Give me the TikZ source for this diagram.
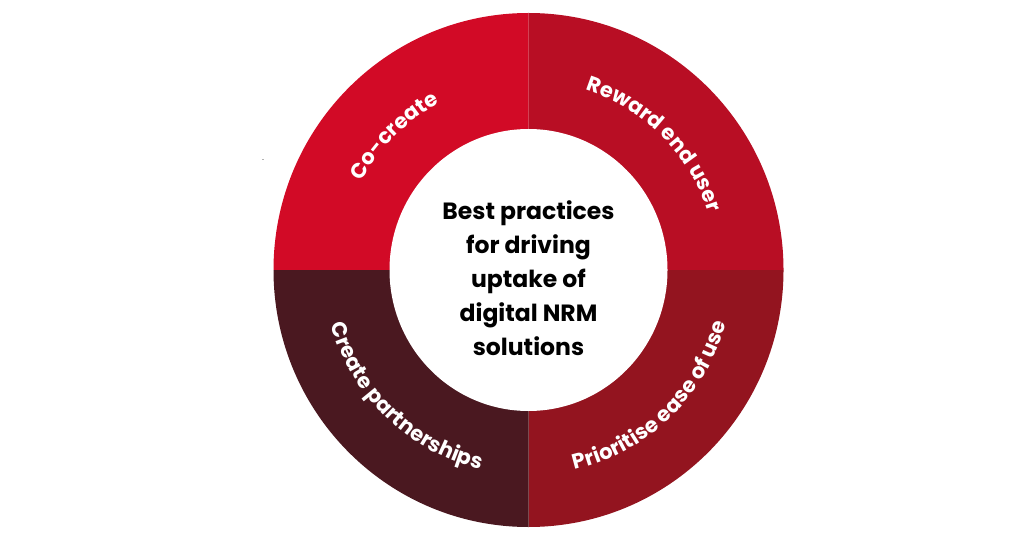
\documentclass[tikz,border=0pt]{standalone}
\usepackage{fontspec}
\setmainfont{Poppins}
\usetikzlibrary{decorations.text,calc}
\definecolor{qA}{HTML}{D20A26}
\definecolor{qB}{HTML}{B80E24}
\definecolor{qC}{HTML}{93141F}
\definecolor{qD}{HTML}{4A1820}
\tikzset{
  ringlabel/.style={decorate, decoration={text along path, text align=center, text color=white}},
}
\newcommand{\ringfont}{\bfseries\fontsize{21}{22}\selectfont}
\begin{document}
\begin{tikzpicture}[x=1pt,y=1pt]
\useasboundingbox (0,0) rectangle (1024,536);
\fill[white] (0,0) rectangle (1024,536);
\coordinate (c) at (528.5,266);
% quadrants
\fill[qA] (c) -- ++(-255,0) arc[start angle=180, end angle=90, x radius=255, y radius=257] -- cycle;
\fill[qB] (c) -- ++(0,257) arc[start angle=90, end angle=0, x radius=255, y radius=257] -- cycle;
\fill[qC] (c) -- ++(255,0) arc[start angle=0, end angle=-90, x radius=255, y radius=257] -- cycle;
\fill[qD] (c) -- ++(0,-257) arc[start angle=-90, end angle=-180, x radius=255, y radius=257] -- cycle;
\fill[white] (c) ellipse[x radius=139, y radius=141];
% ring labels
\path[ringlabel, decoration={text={|\ringfont|Co-create}}]
  ($(c)+(175:189)$) arc[start angle=175, end angle=95, radius=189];
\path[ringlabel, decoration={text={|\ringfont|Reward end user}}]
  ($(c)+(105:189)$) arc[start angle=105, end angle=-15, radius=189];
\path[ringlabel, decoration={text={|\ringfont|Prioritise ease of use}}]
  ($(c)+(-117:205)$) arc[start angle=-117, end angle=25, radius=205];
\path[ringlabel, decoration={text={|\ringfont|Create partnerships}}]
  ($(c)+(155:205)$) arc[start angle=155, end angle=297, radius=205];
% centre text
\node[align=center, font=\bfseries\fontsize{23.5}{34}\selectfont, text=black] (title) at (528.5,258)
  {Best practices\\for driving\\uptake of\\digital NRM\\solutions};
\fill[gray!60] (262,375.5) rectangle (264,376.5);
\end{tikzpicture}
\end{document}
